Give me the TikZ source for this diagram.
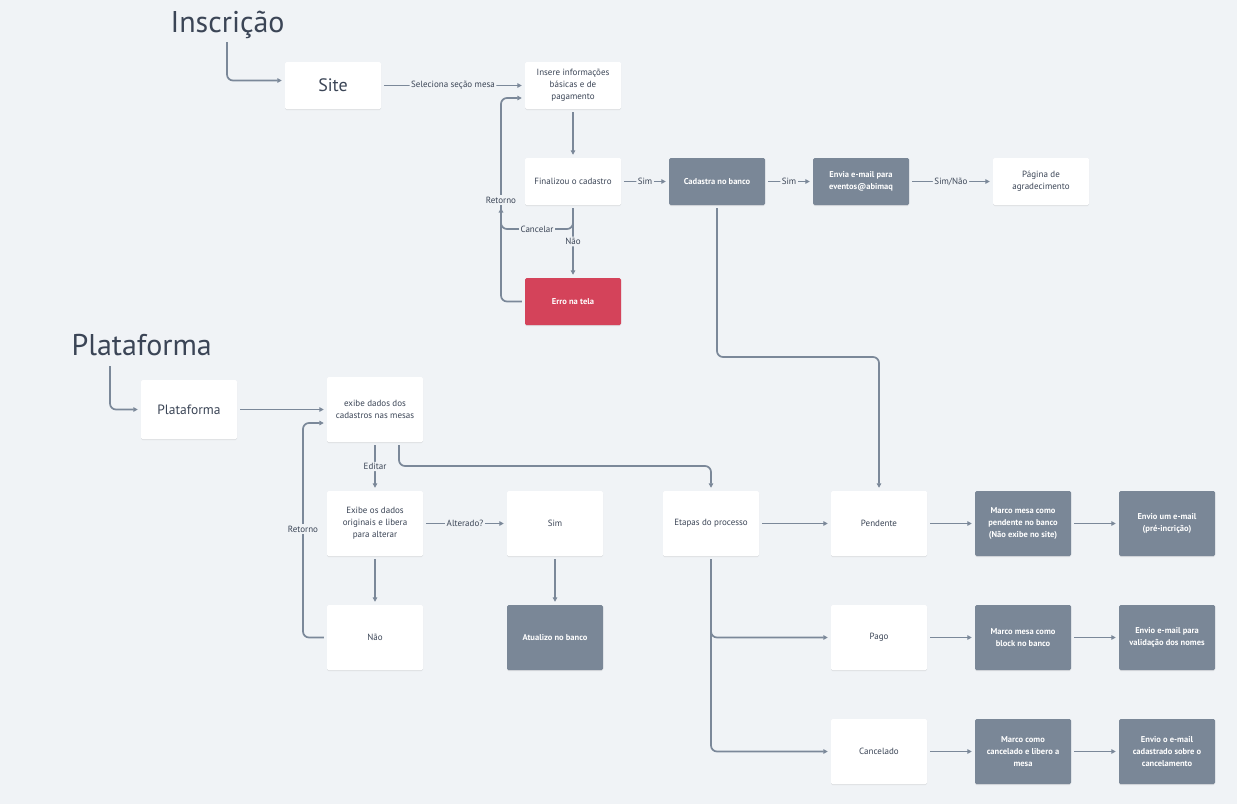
\documentclass[tikz,border=0pt]{standalone}
\usepackage{fontspec}
\setmainfont{PT Sans}
\usetikzlibrary{arrows.meta,shadows}
\definecolor{bg}{HTML}{F0F3F6}
\definecolor{ln}{HTML}{7B8899}
\definecolor{gbox}{HTML}{7A8797}
\definecolor{rbox}{HTML}{D4435A}
\definecolor{txt}{HTML}{3B4556}
\begin{document}
\begin{tikzpicture}[x=1pt,y=-1pt,
  box/.style={fill=white, rounded corners=1.5pt, minimum width=96pt, minimum height=47pt,
    align=center, text=txt, inner sep=2pt, font=\fontsize{9}{12}\selectfont,
    drop shadow={shadow xshift=0pt, shadow yshift=-1pt, opacity=0.08, fill=black}},
  tallbox/.style={box, minimum height=65pt},
  platbox/.style={box, minimum height=59pt},
  darkbox/.style={fill=gbox, text=white, font=\bfseries\fontsize{8.5}{12}\selectfont},
  redbox/.style={fill=rbox, text=white, font=\bfseries\fontsize{8.5}{12}\selectfont},
  conn/.style={draw=ln, line width=1.7pt, rounded corners=6pt,
    -{Triangle[length=4.5pt,width=4.5pt]}, shorten >=3pt, shorten <=3pt},
  lab/.style={fill=bg, inner sep=1.5pt, text=txt, font=\fontsize{9}{10}\selectfont},
  title/.style={anchor=base west, text=txt, font=\fontsize{30}{32}\selectfont},
]
\fill[bg] (0,0) rectangle (1237,804);
\useasboundingbox (0,0) rectangle (1237,804);

% ---------- Inscricao ----------
\node[title] (tins) at (167,32) {Inscrição};
\node[box, font=\fontsize{18}{20}\selectfont] (site) at (333,85.5) {Site};
\node[box] (ins) at (573,85.5) {Insere informações\\básicas e de\\pagamento};
\node[box] (fin) at (573,181.5) {Finalizou o cadastro};
\node[box, redbox] (erro) at (573,301.5) {Erro na tela};
\node[box, darkbox] (cad) at (717,181.5) {Cadastra no banco};
\node[box, darkbox] (env) at (861,181.5) {Envia e-mail para\\eventos@abimaq};
\node[box] (pag) at (1041,181.5) {Página de\\agradecimento};

% ---------- Plataforma ----------
\node[title] (tplat) at (68,355) {Plataforma};
\node[platbox, font=\fontsize{13.5}{15}\selectfont] (plat) at (189,409.5) {Plataforma};
\node[tallbox] (exi) at (375,409.5) {exibe dados dos\\cadastros nas mesas};
\node[tallbox] (exo) at (375,523.5) {Exibe os dados\\originais e libera\\para alterar};
\node[tallbox] (nao) at (375,637.5) {Não};
\node[tallbox] (sim) at (555,523.5) {Sim};
\node[tallbox, darkbox] (atu) at (555,637.5) {Atualizo no banco};
\node[tallbox] (eta) at (711,523.5) {Etapas do processo};
\node[tallbox] (pen) at (879,523.5) {Pendente};
\node[tallbox] (pgo) at (879,637.5) {Pago};
\node[tallbox] (can) at (879,751.5) {Cancelado};
\node[tallbox, darkbox] (m1) at (1023,523.5) {Marco mesa como\\pendente no banco\\(Não exibe no site)};
\node[tallbox, darkbox] (m2) at (1023,637.5) {Marco mesa como\\block no banco};
\node[tallbox, darkbox] (m3) at (1023,751.5) {Marco como\\cancelado e libero a\\mesa};
\node[tallbox, darkbox] (e1) at (1167,523.5) {Envio um e-mail\\(pré-incrição)};
\node[tallbox, darkbox] (e2) at (1167,637.5) {Envio e-mail para\\validação dos nomes};
\node[tallbox, darkbox] (e3) at (1167,751.5) {Envio o e-mail\\cadastrado sobre o\\cancelamento};

% ---------- connectors: Inscricao ----------
\coordinate (t1s) at (227,42);
\coordinate (r1) at (501,0);
\draw[conn, shorten <=0pt] (t1s) |- ([yshift=5pt]site.west);
\draw[conn] (site) -- node[lab]{Seleciona seção mesa} (ins);
\draw[conn] (ins) -- (fin);
\draw[conn] (fin) -- node[lab]{Sim} (cad);
\draw[conn] (cad) -- node[lab]{Sim} (env);
\draw[conn] (env) -- node[lab]{Sim/Não} (pag);
\draw[conn] (fin) -- node[lab, pos=0.5]{Não} (erro);
\draw[conn] (erro.west) -- (erro.west -| r1) |- ([yshift=-12.5pt]ins.west);
\draw[conn, shorten >=0pt] (fin.south) -- (573,229) -- node[lab]{Cancelar} (501,229) -- (501,208);
\node[lab] (retl1) at (501,200) {Retorno};
\draw[conn] (cad.south) -- (717,357) -| (pen.north);

% ---------- connectors: Plataforma ----------
\coordinate (t2s) at (110,366);
\coordinate (r2) at (303,0);
\draw[conn, shorten <=0pt] (t2s) |- (plat.west);
\draw[conn] (plat) -- (exi);
\draw[conn] (exi) -- node[lab]{Editar} (exo);
\draw[conn] ([xshift=24pt]exi.south) -- (399,466) -| (eta.north);
\draw[conn] (exo) -- node[lab]{Alterado?} (sim);
\draw[conn] (exo) -- (nao);
\draw[conn] (nao.west) -- (nao.west -| r2) |- ([yshift=-13.5pt]exi.west);
\node[lab] (retl2) at (303,529) {Retorno};
\draw[conn] (sim) -- (atu);
\draw[conn] (eta) -- (pen);
\draw[conn] (eta.south) |- (pgo.west);
\draw[conn] (eta.south) |- (can.west);
\draw[conn] (pen) -- (m1);
\draw[conn] (m1) -- (e1);
\draw[conn] (pgo) -- (m2);
\draw[conn] (m2) -- (e2);
\draw[conn] (can) -- (m3);
\draw[conn] (m3) -- (e3);
\end{tikzpicture}
\end{document}
